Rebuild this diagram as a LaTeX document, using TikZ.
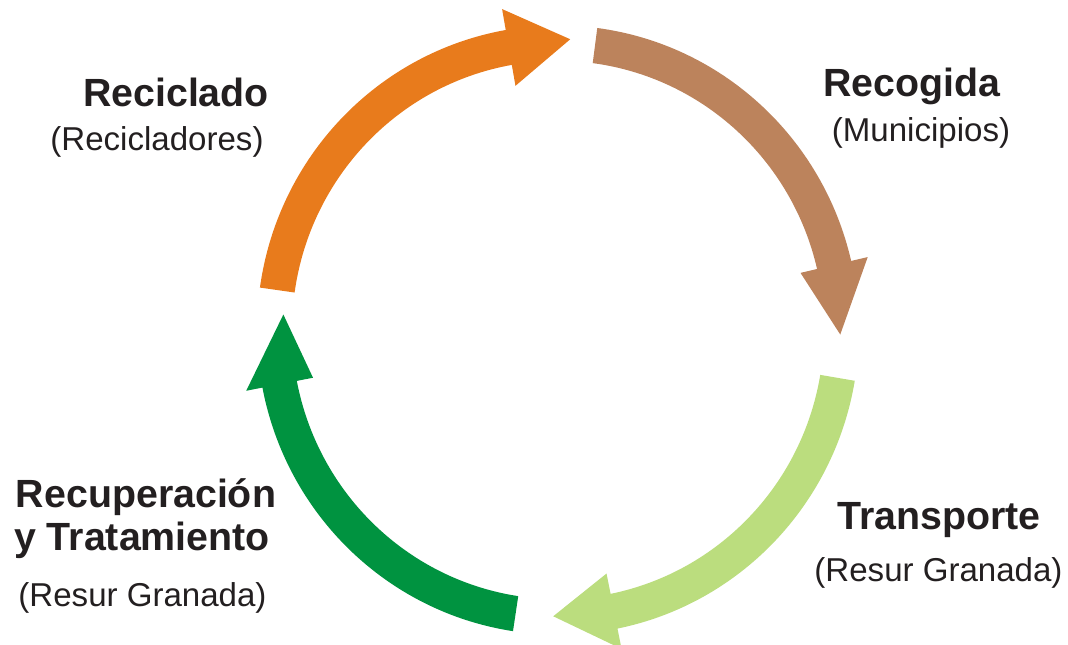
\documentclass[tikz,border=0pt]{standalone}
\usepackage{fontspec}
\setmainfont{Liberation Sans}
\definecolor{corange}{HTML}{E87B1C}
\definecolor{cbrown}{HTML}{BC835C}
\definecolor{clight}{HTML}{BBDD7E}
\definecolor{cdark}{HTML}{009340}
\definecolor{ctext}{HTML}{231F20}
% #1 colour, #2 tail angle, #3 head-base angle, #4 head length, #5 head half width, #6 tip direction offset
\newcommand\ringarrow[6]{%
  \fill[#1] (#2:301) arc[start angle=#2, end angle=#3, radius=301]
    -- (#3:283.5+#5) -- ([shift={(#3-90+#6:#4)}]#3:283.5) -- (#3:283.5-#5)
    -- (#3:266) arc[start angle=#3, end angle=#2, radius=266] -- cycle;}
\tikzset{
  head/.style={anchor=base, inner sep=0pt, text=ctext, font=\fontsize{29.5pt}{32pt}\selectfont\bfseries},
  sub/.style={anchor=base, inner sep=0pt, text=ctext, font=\fontsize{24.8pt}{28pt}\selectfont}
}
\begin{document}
\begin{tikzpicture}[x=0.75pt,y=0.75pt]
\useasboundingbox (0,0) rectangle (1068,645);
\coordinate (c) at (558,315);
\begin{scope}[shift={(c)}, yscale=1.012]
\ringarrow{corange}{172}{100}{62}{38.5}{-2.5}
\ringarrow{cbrown}{82.5}{13.1}{69}{34.5}{-8}
\ringarrow{clight}{-9.6}{-78.6}{61}{38}{-6.7}
\ringarrow{cdark}{261.4}{190.9}{69}{34}{-14}
\end{scope}
\node[head] (reciclado) at (176,538) {Reciclado};
\node[sub] (recicladores) at (157,494) {(Recicladores)};
\node[head] (recogida) at (912,548) {Recogida};
\node[sub] (municipios) at (921,503) {(Municipios)};
\node[head] (transporte) at (939,115) {Transporte};
\node[sub] (resur1) at (938.5,63) {(Resur Granada)};
\node[head] (recuperacion) at (146,137) {Recuperación};
\node[head] (tratamiento) at (142,94) {y Tratamiento};
\node[sub] (resur2) at (142.5,38) {(Resur Granada)};
\end{tikzpicture}
\end{document}
